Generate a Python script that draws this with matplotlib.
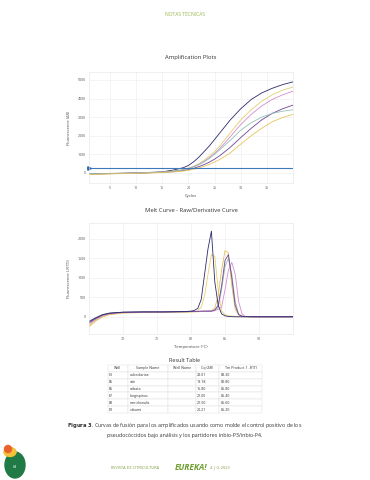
import matplotlib.pyplot as plt
from matplotlib.patches import Circle, Ellipse

# Amplification curves (fluorescence dR)
cycles = [1, 5, 10, 15, 17, 19, 20, 21, 22, 23, 24, 25, 26, 27, 28, 30, 32, 34, 36, 38, 40]
amp_navy = [-60, -30, 0, 60, 150, 280, 400, 600, 850, 1150, 1450, 1800, 2150, 2500, 2850, 3450, 3950, 4300, 4550, 4750, 4900]
amp_yellow = [-80, -40, -10, 40, 100, 180, 260, 370, 500, 680, 900, 1150, 1450, 1800, 2150, 2850, 3400, 3850, 4200, 4450, 4620]
amp_pink = [-70, -40, -10, 40, 90, 170, 240, 340, 460, 620, 820, 1050, 1320, 1620, 1950, 2600, 3150, 3600, 3950, 4200, 4400]
amp_purple = [-50, -30, -10, 30, 70, 130, 180, 250, 340, 450, 580, 740, 930, 1150, 1380, 1900, 2400, 2850, 3200, 3450, 3650]
amp_teal = [-40, -20, 0, 40, 90, 160, 230, 320, 440, 590, 780, 1000, 1250, 1500, 1750, 2300, 2700, 3000, 3200, 3320, 3400]
amp_gold = [-90, -50, -20, 20, 50, 100, 140, 200, 270, 360, 460, 580, 730, 900, 1080, 1550, 2000, 2400, 2750, 2980, 3150]
threshold = 270

# Melt curves (-R'(T))
temps = [65, 66, 67, 68, 70, 73, 76, 79, 80, 80.5, 81, 81.5, 82, 82.5, 83, 83.5, 84, 84.5,
         85, 85.5, 86, 86.5, 87, 87.5, 88, 89, 92, 95]
melt_navy = [-120, -20, 60, 100, 125, 130, 130, 140, 150, 170, 220, 450, 1100, 1750, 2200, 900, 300, 80,
             30, 15, 10, 5, 5, 5, 5, 5, 5, 5]
melt_yellow = [-220, -80, 20, 70, 110, 120, 125, 130, 130, 140, 160, 250, 550, 1100, 1600, 1550, 700, 150,
               60, 30, 20, 15, 10, 8, 5, 5, 5, 5]
melt_gold = [-250, -100, 0, 60, 100, 115, 120, 125, 130, 130, 135, 140, 140, 150, 160, 230, 550, 1200,
             1700, 1650, 800, 200, 60, 25, 10, 5, 5, 5]
melt_purple = [-150, -40, 50, 90, 120, 130, 130, 135, 140, 140, 145, 150, 150, 150, 150, 180, 300, 800,
               1450, 1600, 1000, 300, 60, 20, 10, 5, 5, 5]
melt_teal = [-100, -20, 60, 100, 120, 130, 130, 135, 140, 140, 140, 145, 150, 150, 150, 170, 250, 700,
             1300, 1500, 1100, 400, 80, 20, 10, 5, 5, 5]
melt_pink = [-180, -60, 30, 80, 115, 125, 130, 135, 140, 140, 140, 145, 150, 150, 150, 160, 200, 250,
             700, 1200, 1400, 1100, 400, 80, 15, 5, 5, 5]

# Result table
col_labels = ['Well', 'Sample Name', 'Well Name', 'Cq (ΔR)', "Tm Product 1 -R'(T)"]
wells = ['E3', 'E6', 'E6', 'E7', 'E8', 'E9']
samples = ['calceolariae', 'citri', 'cribata', 'longispinus', 'meridionalis', 'viburni']
cq_vals = ['23.01', '18.18', '16.80', '21.00', '21.50', '20.21']
tm_vals = ['83.30', '82.80', '85.80', '85.40', '85.60', '85.20']

amp_colors = ['#2d2a6b', '#e3cd72', '#d68bd0', '#6f4597', '#93c2b6', '#e9c45a']

plt.rcParams['font.family'] = ['Open Sans', 'DejaVu Sans']
fig = plt.figure(figsize=(3.7, 4.8), dpi=100)

def px(x, y):
    return x / 370, 1 - y / 480

def style_axes(ax):
    ax.grid(True, color='#ececec', linewidth=0.4)
    ax.set_axisbelow(True)
    for s in ax.spines.values():
        s.set_color('#e4e4e4')
        s.set_linewidth(0.4)
    ax.tick_params(length=0, labelsize=2.6, colors='#555555', pad=2)

# header
fig.text(*px(185, 14), 'NOTAS TÉCNICAS', ha='center', va='center', fontsize=3.6, color='#9ab54a')

# amplification plot
ax1 = fig.add_axes([89 / 370, 1 - 183 / 480, 204 / 370, 111 / 480])
for vals, c in zip([amp_navy, amp_yellow, amp_pink, amp_purple, amp_teal, amp_gold], amp_colors):
    ax1.plot(cycles, vals, color=c, linewidth=0.6)
ax1.axhline(threshold, color='#3d7bb8', linewidth=0.8)
ax1.plot([1], [threshold], marker='>', color='#2f6db0', markersize=2.5, clip_on=False)
ax1.set_xlim(1, 40)
ax1.set_ylim(-540, 5430)
ax1.set_xticks([5, 10, 15, 20, 25, 30, 35])
ax1.set_yticks([0, 1000, 2000, 3000, 4000, 5000])
style_axes(ax1)
ax1.set_title('Amplification Plots', fontsize=4.2, color='#333333', pad=9)
ax1.set_xlabel('Cycles', fontsize=3, color='#444444', labelpad=3)
ax1.set_ylabel('Fluorescence (ΔR)', fontsize=3, color='#444444', labelpad=5)

# melt curve plot
ax2 = fig.add_axes([89 / 370, 1 - 334 / 480, 204 / 370, 111 / 480])
melt_series = [(melt_yellow, '#e8d06a'), (melt_gold, '#e3bf55'), (melt_teal, '#93b8b0'),
               (melt_pink, '#d68bd0'), (melt_purple, '#6f4597'), (melt_navy, '#2d2a6b')]
for vals, c in melt_series:
    ax2.plot(temps, vals, color=c, linewidth=0.6)
ax2.set_xlim(65, 95)
ax2.set_ylim(-436, 2410)
ax2.set_xticks([70, 75, 80, 85, 90])
ax2.set_yticks([0, 500, 1000, 1500, 2000])
style_axes(ax2)
ax2.set_title('Melt Curve - Raw/Derivative Curve', fontsize=4.2, color='#333333', pad=8)
ax2.set_xlabel('Temperature (°C)', fontsize=3, color='#444444', labelpad=3)
ax2.set_ylabel("Fluorescence (-R'(T))", fontsize=3, color='#444444', labelpad=5)

# result table
fig.text(*px(185, 360), 'Result Table', ha='center', va='center', fontsize=4, color='#333333')
axt = fig.add_axes([108 / 370, 1 - 413 / 480, 154 / 370, 48 / 480])
axt.axis('off')
rows = [[w, s, '', c, t] for w, s, c, t in zip(wells, samples, cq_vals, tm_vals)]
tab = axt.table(cellText=rows, colLabels=col_labels, loc='center', cellLoc='left',
                colWidths=[0.13, 0.26, 0.18, 0.15, 0.28], bbox=[0, 0, 1, 1])
tab.auto_set_font_size(False)
tab.set_fontsize(2.6)
for (r, c), cell in tab.get_celld().items():
    cell.set_edgecolor('#dddddd')
    cell.set_linewidth(0.3)
    cell.PAD = 0.05
    cell.get_text().set_color('#333333')

# caption
fig.text(*px(185, 425), r'$\bf{Figura\ 3}$. Curvas de fusión para los amplificados usando como molde el control positivo de los',
         ha='center', va='center', fontsize=3.8, color='#333333')
fig.text(*px(185, 435), 'pseudocóccidos bajo análisis y los partidores inbio-P3/inbio-P4.',
         ha='center', va='center', fontsize=3.8, color='#333333')

# footer
fig.text(*px(135, 468), 'REVISTA DE CITRICULTURA', ha='center', va='center', fontsize=2.8, color='#7f9a3a')
fig.text(*px(191, 467), 'EUREKA!', ha='center', va='center', fontsize=6, color='#6d9e2e',
         fontweight='bold', fontstyle='italic')
fig.text(*px(220, 468), '4 | 0. 2023', ha='center', va='center', fontsize=2.8, color='#7f9a3a')
fig.add_artist(Circle(px(15, 465), 10 / 370, transform=fig.transFigure, color='#1f7a45'))
fig.add_artist(Ellipse(px(10, 452), 12 / 370, 9 / 480, transform=fig.transFigure, color='#f3c13a'))
fig.add_artist(Ellipse(px(8, 449), 7 / 370, 7 / 480, transform=fig.transFigure, color='#e8622a'))
fig.text(*px(15, 467), '64', ha='center', va='center', fontsize=2.6, color='white')

fig.savefig('out.png', dpi=100)
